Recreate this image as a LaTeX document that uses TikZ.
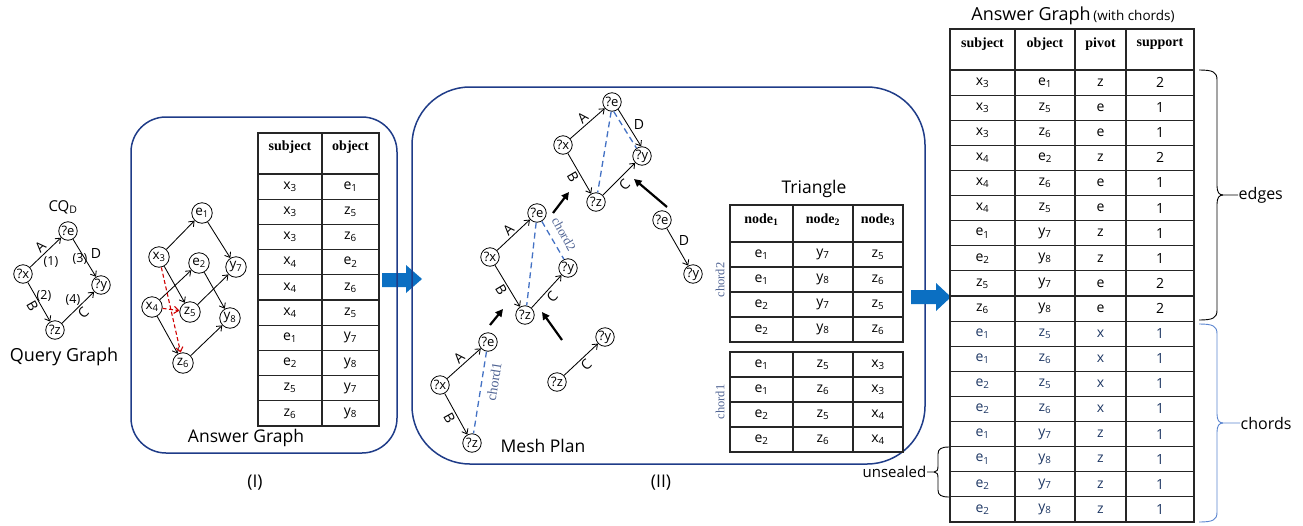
\documentclass[tikz,border=0pt]{standalone}
\usepackage{fontspec}
\setmainfont{Open Sans}
\newfontfamily\hdrfont{Liberation Serif}
\usetikzlibrary{arrows.meta}
\definecolor{navy}{HTML}{1F3C88}
\definecolor{barrow}{HTML}{0B6FC2}
\definecolor{chordblue}{HTML}{4472C4}
\definecolor{chordtxt}{HTML}{4F6393}
\definecolor{rowblue}{HTML}{1F3864}
\definecolor{redd}{HTML}{D00000}
\definecolor{bracebl}{HTML}{5B85D0}
\newcommand\sbs[1]{\textsubscript{#1}}
\begin{document}
\begin{tikzpicture}[x=1pt,y=-1pt,
  vtx/.style={circle,draw,line width=0.8pt,inner sep=0.2pt,minimum size=18.5pt,font=\fontsize{13}{13}\selectfont},
  avtx/.style={vtx,minimum size=20.5pt,font=\fontsize{13.5}{13.5}\selectfont},
  edge/.style={-{Straight Barb[length=4.5pt,width=7pt]},line width=0.85pt},
  reddash/.style={edge,redd,dash pattern=on 4pt off 2.5pt,line width=1.1pt},
  chordline/.style={chordblue,dash pattern=on 6pt off 4pt,line width=1.3pt},
  bigarrow/.style={-{Triangle[length=7.5pt,width=7.5pt]},line width=2.2pt},
  panel/.style={draw=navy,line width=1.5pt},
  tbl/.style={draw=black!85,line width=1.1pt},
  lbl/.style={font=\fontsize{14}{14}\selectfont,inner sep=2pt},
  slbl/.style={font=\fontsize{12.5}{12.5}\selectfont,inner sep=1pt},
  cell/.style={font=\fontsize{14}{14}\selectfont,inner sep=0pt},
  hdr/.style={font=\hdrfont\bfseries\fontsize{14}{14}\selectfont,inner sep=0pt},
  title/.style={font=\fontsize{17.5}{20}\selectfont,inner sep=0pt},
  chordlbl/.style={text=chordtxt,font=\hdrfont\fontsize{14}{14}\selectfont,inner sep=0pt},
]
\useasboundingbox (0,0) rectangle (1303,525);

% ---------- block arrow between (I) and (II)
\fill[barrow] (382,273) -- (406,273) -- (406,265) -- (422,279) -- (406,293) -- (406,287) -- (382,287) -- cycle;

% ---------- panels
\draw[panel,rounded corners=35pt] (131,117) rectangle (397,453);
\draw[panel,rounded corners=58pt] (412,87) rectangle (925,464);

% ---------- block arrow to final table
\fill[barrow] (911,290) -- (936,290) -- (936,283) -- (951,297) -- (936,311) -- (936,304) -- (911,304) -- cycle;

% ---------- Query graph
\node[lbl,font=\fontsize{15}{15}\selectfont] (cqd) at (63,207) {CQ\sbs{D}};
\node[vtx] (qe) at (68,231) {?e};
\node[vtx] (qx) at (23,274) {?x};
\node[vtx] (qy) at (101,285) {?y};
\node[vtx] (qz) at (55,330) {?z};
\draw[edge] (qx) -- node[lbl,above,sloped]{A} (qe);
\draw[edge] (qe) -- (qy);
\draw[edge] (qx) -- node[lbl,below,sloped]{B} (qz);
\draw[edge] (qz) -- node[lbl,below,sloped]{C} (qy);
\node[lbl] (qd) at (96,253) {D};
\node[slbl] (q1) at (51,262) {(1)};
\node[slbl] (q3) at (80,259) {(3)};
\node[slbl] (q2) at (44,296) {(2)};
\node[slbl] (q4) at (73,300) {(4)};
\node[title,font=\fontsize{18}{20}\selectfont] (qgt) at (64,357) {Query Graph};

% ---------- Answer graph (I)
\node[avtx] (e1) at (202,213) {e\sbs1};
\node[avtx] (x3) at (159,257) {x\sbs3};
\node[avtx] (e2) at (199,263) {e\sbs2};
\node[avtx] (y7) at (236,267) {y\sbs7};
\node[avtx] (x4) at (152,307) {x\sbs4};
\node[avtx] (z5) at (190,312) {z\sbs5};
\node[avtx] (y8) at (230,318) {y\sbs8};
\node[avtx] (z6) at (183,363) {z\sbs6};
\draw[edge] (x3) -- (e1);
\draw[edge] (e1) -- (y7);
\draw[edge] (x3) -- (z5);
\draw[edge] (x4) -- (e2);
\draw[edge] (e2) -- (y8);
\draw[edge] (z5) -- (y7);
\draw[edge] (x4) -- (z6);
\draw[edge] (z6) -- (y8);
\draw[reddash] (x3) -- (z6);
\draw[reddash] (x4) -- (z5);
\node[title] (agt) at (246,438) {Answer Graph};
\node[title] (pI) at (255,483) {(I)};

% table (I)
\draw[tbl] (258,133) rectangle (379,426);
\draw[tbl] (322,133) -- (322,426);
\foreach \i in {0,...,9} \draw[tbl] (258,{174+25.2*\i}) -- (379,{174+25.2*\i});
\node[hdr] (h1a) at (290,147) {subject};
\node[hdr] (h1b) at (350.5,147) {object};
\foreach \a/\b [count=\i from 0] in {x\sbs3/e\sbs1,x\sbs3/z\sbs5,x\sbs3/z\sbs6,x\sbs4/e\sbs2,x\sbs4/z\sbs6,x\sbs4/z\sbs5,e\sbs1/y\sbs7,e\sbs2/y\sbs8,z\sbs5/y\sbs7,z\sbs6/y\sbs8}{
  \node[cell] (ta\i) at (290,{174+25.2*(\i+0.5)}) {\a};
  \node[cell] (tb\i) at (350.5,{174+25.2*(\i+0.5)}) {\b};
}

% ---------- Mesh plan (II)
% top diamond
\node[vtx] (te) at (612,102) {?e};
\node[vtx] (tx) at (563,145) {?x};
\node[vtx] (ty) at (642,156) {?y};
\node[vtx] (tz) at (596,202) {?z};
\draw[edge] (tx) -- node[lbl,above,sloped]{A} (te);
\draw[edge] (te.-50) -- (ty.95);
\draw[edge] (tx) -- node[lbl,below,sloped]{B} (tz);
\draw[edge] (tz) -- node[lbl,below,sloped]{C} (ty);
\draw[chordline] (te.-95) -- (tz.80);
\draw[chordline] (te.-80) -- (ty.125);
\node[lbl] (td) at (639,124) {D};
% middle
\node[vtx] (me) at (537,213) {?e};
\node[vtx] (mx) at (490,257) {?x};
\node[vtx] (my) at (568,268) {?y};
\node[vtx] (mz) at (525,315) {?z};
\draw[edge] (mx) -- node[lbl,above,sloped]{A} (me);
\draw[edge] (mx) -- node[lbl,below,sloped]{B} (mz);
\draw[edge] (mz) -- node[lbl,below,sloped]{C} (my);
\draw[chordline] (me.-95) -- (mz.80);
\draw[chordline] (me.-60) -- (my.115);
\node[chordlbl,rotate=-61,font=\hdrfont\fontsize{13}{13}\selectfont] (c2lbl) at (564,234) {chord2};
% bottom-left
\node[vtx] (be) at (488,342) {?e};
\node[vtx] (bx) at (440,385) {?x};
\node[vtx] (bz) at (472,443) {?z};
\draw[edge] (bx) -- node[lbl,above,sloped]{A} (be);
\draw[edge] (bx) -- node[lbl,below,sloped]{B} (bz);
\draw[chordline] (be) -- (bz);
\node[chordlbl,rotate=81] (c1lbl) at (494,382) {chord1};
% middle-right
\node[vtx] (rz) at (557,382) {?z};
\node[vtx] (ry) at (605,337) {?y};
\draw[edge] (rz) -- node[lbl,below,sloped]{C} (ry);
% right
\node[vtx] (re) at (662,220) {?e};
\node[vtx] (ry2) at (693,274) {?y};
\draw[edge] (re) -- (ry2);
\node[lbl] (rd) at (684,240) {D};
% thick arrows
\coordinate (a1s) at (553,213); \coordinate (a1e) at (569,192);
\coordinate (a2s) at (667,207); \coordinate (a2e) at (634,179);
\coordinate (a3s) at (490,325); \coordinate (a3e) at (503,309);
\coordinate (a4s) at (562,340); \coordinate (a4e) at (542,312);
\draw[bigarrow] (a1s) -- (a1e);
\draw[bigarrow] (a2s) -- (a2e);
\draw[bigarrow] (a3s) -- (a3e);
\draw[bigarrow] (a4s) -- (a4e);
\node[title] (mpt) at (543,446) {Mesh Plan};
\node[title] (pII) at (661,483) {(II)};

% Triangle table
\node[title] (trt) at (814,189) {Triangle};
\draw[tbl] (730,205) rectangle (903,342);
\draw[tbl] (793,205) -- (793,342);
\draw[tbl] (853,205) -- (853,342);
\foreach \y in {242,267,292,317} \draw[tbl] (730,\y) -- (903,\y);
\node[hdr] (n1) at (761.5,220) {node\sbs1};
\node[hdr] (n2) at (823,220) {node\sbs2};
\node[hdr] (n3) at (878,220) {node\sbs3};
\foreach \a/\b/\c [count=\i from 0] in {e\sbs1/y\sbs7/z\sbs5,e\sbs1/y\sbs8/z\sbs6,e\sbs2/y\sbs7/z\sbs5,e\sbs2/y\sbs8/z\sbs6}{
  \node[cell] (ua\i) at (761.5,{254.5+25*\i}) {\a};
  \node[cell] (ub\i) at (823,{254.5+25*\i}) {\b};
  \node[cell] (uc\i) at (878,{254.5+25*\i}) {\c};
}
\draw[tbl] (730,352) rectangle (903,452);
\draw[tbl] (793,352) -- (793,452);
\draw[tbl] (853,352) -- (853,452);
\foreach \y in {377,402,427} \draw[tbl] (730,\y) -- (903,\y);
\foreach \a/\b/\c [count=\i from 0] in {e\sbs1/z\sbs5/x\sbs3,e\sbs1/z\sbs6/x\sbs3,e\sbs2/z\sbs5/x\sbs4,e\sbs2/z\sbs6/x\sbs4}{
  \node[cell] (va\i) at (761.5,{364.5+25*\i}) {\a};
  \node[cell] (vb\i) at (823,{364.5+25*\i}) {\b};
  \node[cell] (vc\i) at (878,{364.5+25*\i}) {\c};
}
\node[chordlbl,rotate=90,font=\hdrfont\fontsize{12.5}{12.5}\selectfont] (tc2) at (720,280) {chord2};
\node[chordlbl,rotate=90,font=\hdrfont\fontsize{12.5}{12.5}\selectfont] (tc1) at (720,402) {chord1};

% ---------- Answer graph with chords
\node[inner sep=0pt] (awt) at (1073,16) {{\fontsize{18}{20}\selectfont Answer Graph} {\fontsize{13.5}{14}\selectfont (with chords)}};
\draw[tbl] (950,29) rectangle (1194,522);
\foreach \x in {1015,1075,1126} \draw[tbl] (\x,29) -- (\x,522);
\foreach \i in {0,...,17} \draw[tbl] (950,{70+25.11*\i}) -- (1194,{70+25.11*\i});
\node[hdr] (w1) at (982.5,44) {subject};
\node[hdr] (w2) at (1045,44) {object};
\node[hdr] (w3) at (1100.5,44) {pivot};
\node[hdr] (w4) at (1160,44) {support};
\foreach \a/\b/\c/\d [count=\i from 0] in {x\sbs3/e\sbs1/z/2,x\sbs3/z\sbs5/e/1,x\sbs3/z\sbs6/e/1,x\sbs4/e\sbs2/z/2,x\sbs4/z\sbs6/e/1,x\sbs4/z\sbs5/e/1,e\sbs1/y\sbs7/z/1,e\sbs2/y\sbs8/z/1,z\sbs5/y\sbs7/e/2,z\sbs6/y\sbs8/e/2}{
  \node[cell] (pa\i) at (982.5,{70+25.11*(\i+0.5)}) {\a};
  \node[cell] (pb\i) at (1045,{70+25.11*(\i+0.5)}) {\b};
  \node[cell] (pc\i) at (1100.5,{70+25.11*(\i+0.5)}) {\c};
  \node[cell] (pd\i) at (1160,{70+25.11*(\i+0.5)}) {\d};
}
\foreach \a/\b/\c/\d [count=\i from 10] in {e\sbs1/z\sbs5/x/1,e\sbs1/z\sbs6/x/1,e\sbs2/z\sbs5/x/1,e\sbs2/z\sbs6/x/1,e\sbs1/y\sbs7/z/1,e\sbs1/y\sbs8/z/1,e\sbs2/y\sbs7/z/1,e\sbs2/y\sbs8/z/1}{
  \node[cell,text=rowblue] (pa\i) at (982.5,{70+25.11*(\i+0.5)}) {\a};
  \node[cell,text=rowblue] (pb\i) at (1045,{70+25.11*(\i+0.5)}) {\b};
  \node[cell,text=rowblue] (pc\i) at (1100.5,{70+25.11*(\i+0.5)}) {\c};
  \node[cell,text=rowblue] (pd\i) at (1160,{70+25.11*(\i+0.5)}) {\d};
}

% braces
\draw[line width=0.9pt] (1199,70) .. controls (1213,70) and (1217,72) .. (1217,80) -- (1217,186) .. controls (1217,192) and (1219,195) .. (1223,195) -- (1238,195);
\draw[line width=0.9pt] (1199,320) .. controls (1213,320) and (1217,318) .. (1217,310) -- (1217,204) .. controls (1217,198) and (1219,195) .. (1223,195);
\node[lbl,anchor=west,inner sep=0.5pt,font=\fontsize{16}{16}\selectfont] (edg) at (1238,195) {edges};
\draw[bracebl,line width=0.9pt] (1199,324) .. controls (1213,324) and (1217,326) .. (1217,334) -- (1217,414) .. controls (1217,420) and (1219,423) .. (1223,423) -- (1240,423);
\draw[bracebl,line width=0.9pt] (1199,522) .. controls (1213,522) and (1217,520) .. (1217,512) -- (1217,432) .. controls (1217,426) and (1219,423) .. (1223,423);
\node[lbl,anchor=west,inner sep=0.5pt,font=\fontsize{16}{16}\selectfont] (chd) at (1240,423) {chords};
\draw[line width=0.9pt] (949,447) .. controls (941,447) and (938,449) .. (938,454) -- (938,466) .. controls (938,470) and (937,472) .. (934,472) -- (927,472);
\draw[line width=0.9pt] (949,497) .. controls (941,497) and (938,495) .. (938,490) -- (938,478) .. controls (938,474) and (937,472) .. (934,472);
\node[lbl,anchor=east,inner sep=0.5pt,font=\fontsize{15}{15}\selectfont] (uns) at (927,472) {unsealed};
\end{tikzpicture}
\end{document}
